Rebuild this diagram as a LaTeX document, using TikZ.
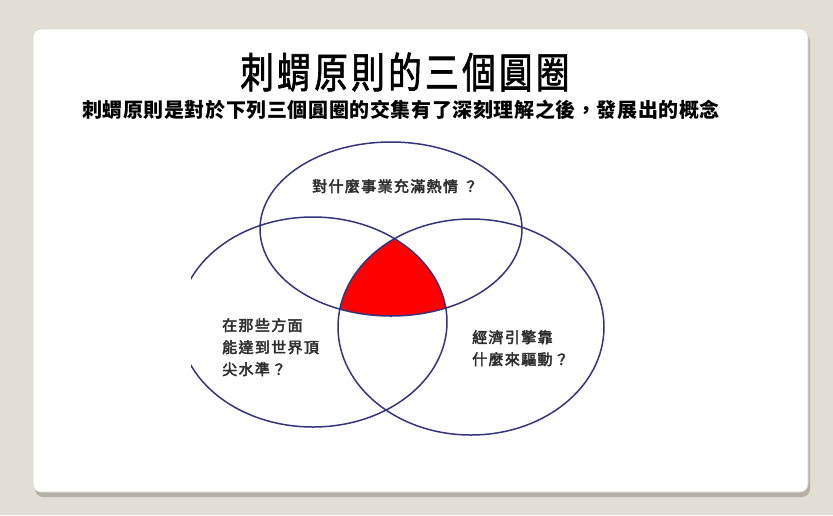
\documentclass[tikz,border=0pt]{standalone}
\usepackage{fontspec}
\newfontfamily\titlefont[FakeStretch=0.8,LetterSpace=8,FakeBold=1.5]{Noto Sans CJK TC}
\newfontfamily\subfont[LetterSpace=3]{Noto Sans CJK TC}
\newfontfamily\lblfont[LetterSpace=9,FakeBold=3]{Noto Sans CJK TC}
\definecolor{bgc}{HTML}{E3DED3}
\definecolor{navy}{HTML}{35357E}
\definecolor{shadowc}{HTML}{B5B1A6}
\definecolor{lbltext}{HTML}{2E2E2E}
\tikzset{
  venn/.style={draw=navy, line width=1.5pt},
  lbl/.style={font=\lblfont\fontsize{15}{22}\selectfont, text=lbltext, align=left, inner sep=0pt, anchor=north west}
}
\begin{document}
\begin{tikzpicture}[x=1pt,y=-1pt]
\useasboundingbox (0,0) rectangle (833,515);
\fill[bgc] (0,0) rectangle (833,515);
% card shadow
\fill[shadowc, rounded corners=8pt] (35,33) rectangle (810,497);
\fill[white, draw=black!15, line width=0.6pt, rounded corners=8pt] (33,29) rectangle (808,492);
% title
\node[font=\titlefont\fontsize{42}{46}\selectfont, inner sep=0pt] (title) at (405,72) {刺蝟原則的三個圓圈};
\node[font=\subfont\bfseries\fontsize{20}{24}\selectfont, inner sep=0pt] (sub) at (401,110) {刺蝟原則是對於下列三個圓圈的交集有了深刻理解之後，發展出的概念};
% red intersection
\begin{scope}
  \clip (391,229) ellipse [x radius=131, y radius=87];
  \clip (313,322) ellipse [x radius=134, y radius=105];
  \fill[red] (471,327) ellipse [x radius=133, y radius=108];
\end{scope}
% ellipses
\draw[venn] (391,229) ellipse [x radius=131, y radius=87];
\begin{scope}
  \clip (191,100) rectangle (833,515);
  \draw[venn] (313,322) ellipse [x radius=134, y radius=105];
\end{scope}
\draw[venn] (471,327) ellipse [x radius=133, y radius=108];
% labels
\node[lbl] (top) at (312,179) {對什麼事業充滿熱情\hspace{5pt}？};
\node[lbl] (left) at (222,318) {在那些方面\\能達到世界頂\\尖水準？};
\node[lbl] (right) at (472,330) {經濟引擎靠\\什麼來驅動？};
\end{tikzpicture}
\end{document}
